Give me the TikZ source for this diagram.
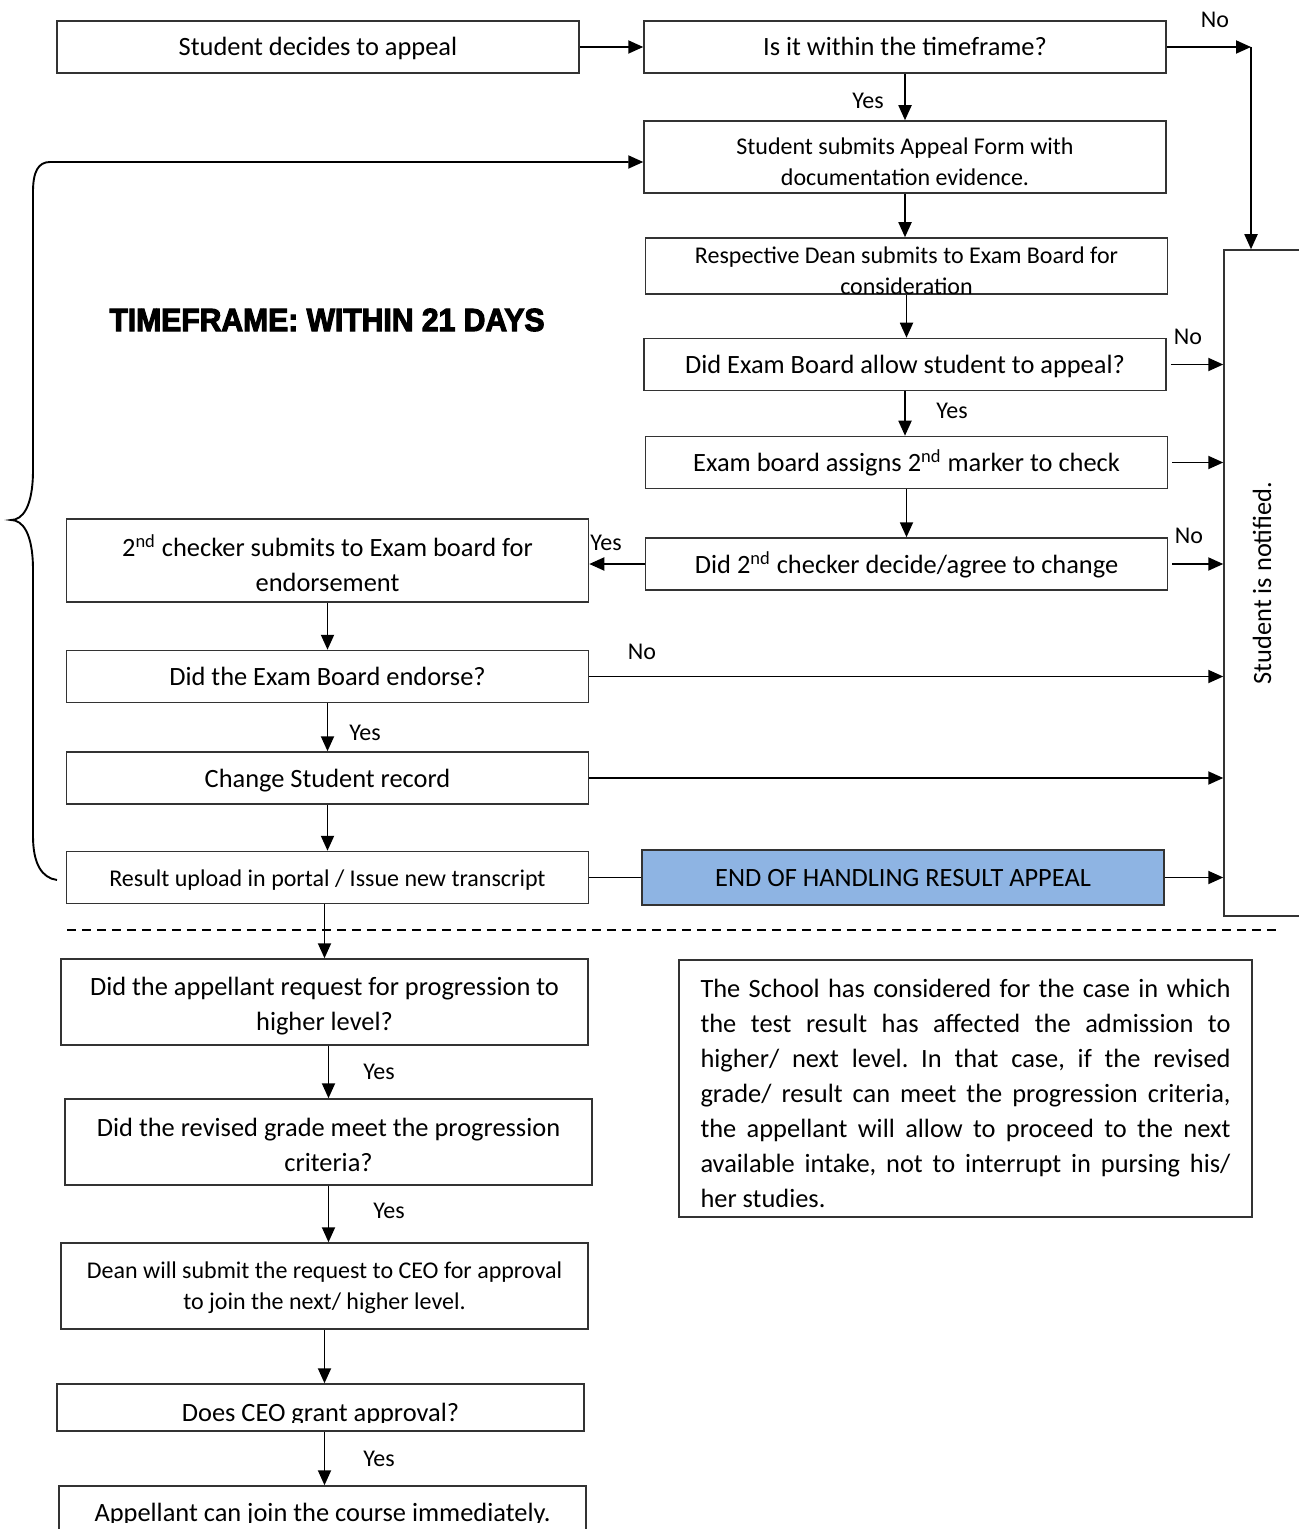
\documentclass[tikz,border=0pt]{standalone}
\usepackage{fontspec}
\setmainfont{Carlito}
\newfontfamily\titlefont[FakeBold=3.5]{Liberation Sans Bold}
\usetikzlibrary{arrows.meta}
\newcommand{\fsbig}{\fontsize{13.2}{17.5}\selectfont}
\newcommand{\fssmall}{\fontsize{12}{15.5}\selectfont}
\begin{document}
\begin{tikzpicture}[x=1pt,y=-1pt,
  box/.style={draw=black!80,line width=0.75pt,minimum width=261pt,minimum height=26pt,inner sep=2pt,align=center,font=\fsbig,text height=10pt,text depth=1pt},
  txt/.style={align=center,font=\fsbig,inner sep=0pt},
  lbl/.style={font=\fssmall,inner sep=0pt},
  arr/.style={line width=0.95pt,-{Triangle[length=7.5pt,width=6.5pt]}},
  link/.style={line width=0.95pt}]

    \useasboundingbox (0,0) rectangle (649,764.5);

    % upper part: appeal handling
    \node[box] (1) at (159,23.5) {Student decides to appeal};
    \node[box] (2) at (452.5,23.5) {Is it within the timeframe?};
    \node[box,minimum height=36pt] (3) at (452.5,78.5) {};
    \begin{scope}
      \clip ([yshift=3.5pt]3.south west) rectangle (3.north east);
      \node[txt,font=\fssmall] (3t) at (452.5,81) {Student submits Appeal Form with\\documentation evidence.};
    \end{scope}
    \node[box,minimum height=28pt] (4) at (453.25,133) {};
    \node[txt,font=\fssmall] (4t) at (453.25,135.25) {Respective Dean submits to Exam Board for\\consideration};
    \node[box] (5) at (452.5,182.25) {Did Exam Board allow student to appeal?};
    \node[box] (6) at (453.25,231.25) {Exam board assigns 2\textsuperscript{nd} marker to check};
    \node[box] (7) at (453.25,282) {Did 2\textsuperscript{nd} checker decide/agree to change};
    \node[box,minimum height=41.5pt] (8) at (163.75,280.25) {};
    \node[txt] (8t) at (163.75,281.5) {2\textsuperscript{nd} checker submits to Exam board for\\endorsement};
    \node[box] (9) at (163.75,338.25) {Did the Exam Board endorse?};
    \node[box] (10) at (163.75,389) {Change Student record};
    \node[box,font=\fssmall] (11) at (163.75,438.75) {Result upload in portal / Issue new transcript};
    \node[box,fill={rgb,255:red,142;green,180;blue,227},minimum height=27.5pt] (12) at (451.5,438.75) {END OF HANDLING RESULT APPEAL};
    \node[box,minimum width=38pt,minimum height=333pt,text height=,text depth=,
          label={[rotate=90,font=\fsbig]center:Student is notified.}] (13) at (631,291.5) {};

    \node (t) at (163.5,160) {\scalebox{0.94}[1]{\titlefont\fontsize{16}{18}\selectfont TIMEFRAME: WITHIN 21 DAYS}};

    % labels
    \node[lbl] (n1) at (607.5,10) {No};
    \node[lbl] (y1) at (434,50.5) {Yes};
    \node[lbl] (n2) at (594,168.5) {No};
    \node[lbl] (y2) at (476,205.5) {Yes};
    \node[lbl] (n3) at (594.5,268) {No};
    \node[lbl] (y3) at (303,271.5) {Yes};
    \node[lbl] (n4) at (321,326) {No};
    \node[lbl] (y4) at (182.5,366.5) {Yes};

    \coordinate (c1) at (625.5,23.5);
    \draw[arr] (1) -- (2);
    \draw[arr] (2.east) -- (c1);
    \draw[arr] (c1) -- (c1 |- 13.north);
    \draw[arr] (2.south) -- (3.north);
    \draw[arr] (3.south) -- (3.south |- 4.north);
    \draw[arr] (4.south) -- (4.south |- 5.north);
    \draw[arr] (5.south) -- (5.south |- 6.north);
    \draw[arr] (6.south) -- (6.south |- 7.north);
    \draw[arr] ([xshift=2pt]5.east) -- (5.east -| 13.west);
    \draw[arr] ([xshift=2pt]6.east) -- (6.east -| 13.west);
    \draw[arr] ([xshift=2pt]7.east) -- (7.east -| 13.west);
    \draw[arr] (7.west) -- (7.west -| 8.east);
    \draw[arr] (8.south) -- (9.north);
    \draw[arr] (9.south) -- (10.north);
    \draw[arr] (10.south) -- (11.north);
    \draw[arr] (9.east) -- (9.east -| 13.west);
    \draw[arr] (10.east) -- (10.east -| 13.west);
    \draw[link] (11.east) -- (12.west);
    \draw[arr] (12.east) -- (12.east -| 13.west);

    % brace back to the appeal form
    \coordinate (b1) at (28.5,440);
    \coordinate (b2) at (25,81);
    \draw[arr] (b1) .. controls (21,439) and (16.5,432) .. (16.5,418) -- (16.5,285)
      .. controls (16.5,266) and (11,260) .. (5.5,260)
      .. controls (11,260) and (16.5,254) .. (16.5,235) -- (16.5,96)
      .. controls (16.5,86) and (19,81) .. (b2) -- (b2 -| 3.west);

    \draw[dash pattern=on 4.5pt off 3pt,line width=0.6pt] (33.5,465) -- (640,465);

    % lower part: progression
    \node[box,minimum width=263.5pt,minimum height=43pt] (14) at (162.25,501) {};
    \node[txt] (14t) at (162.25,503.25) {Did the appellant request for progression to\\higher level?};
    \node[box,minimum width=263.5pt,minimum height=43pt] (15) at (164.25,571) {};
    \node[txt] (15t) at (164.25,572.25) {Did the revised grade meet the progression\\criteria?};
    \node[box,minimum width=263.5pt,minimum height=43pt] (16) at (162.25,643) {};
    \node[txt,font=\fssmall] (16t) at (162.25,644) {Dean will submit the request to CEO for approval\\to join the next/ higher level.};
    \node[box,minimum width=263.5pt,minimum height=23.5pt] (17) at (160.25,703.75) {};
    \begin{scope}
      \clip ([yshift=4.5pt]17.south west) rectangle (17.north east);
      \node[txt,anchor=base] (17t) at (160.25,710.5) {Does CEO grant approval?};
    \end{scope}
    \node[box,minimum width=263.5pt,minimum height=40pt] (18) at (161.25,763) {};
    \coordinate (rcut) at (0,761);
    \begin{scope}
      \clip (18.north west) rectangle (18.east |- rcut);
      \node[txt,anchor=base] (18t) at (161.25,760.5) {Appellant can join the course immediately.};
    \end{scope}
    \node[box,minimum width=286.5pt,minimum height=128.5pt] (19) at (482.75,544.25) {};
    \node[txt,text width=265pt,align=justify] (19t) at (482.75,546.75)
      {\frenchspacing\tolerance=10000 The School has considered for the case in which\linebreak
       the test result has affected the admission to\linebreak
       higher/ next level. In that case, if the revised\linebreak
       grade/ result can meet the progression criteria,\linebreak
       the appellant will allow to proceed to the next\linebreak
       available intake, not to interrupt in pursing his/\linebreak
       her studies.};

    \node[lbl] (y5) at (189.5,536) {Yes};
    \node[lbl] (y6) at (194.5,605.5) {Yes};
    \node[lbl] (y7) at (189.5,729.5) {Yes};

    \draw[arr] (11.south -| 14.north) -- (14.north);
    \draw[arr] (14.south -| 15.north) -- (15.north);
    \draw[arr] (15.south) -- (15.south |- 16.north);
    \draw[arr] (16.south) -- (16.south |- 17.north);
    \draw[arr] (16.south |- 17.south) -- (16.south |- 18.north);
\end{tikzpicture}
\end{document}
